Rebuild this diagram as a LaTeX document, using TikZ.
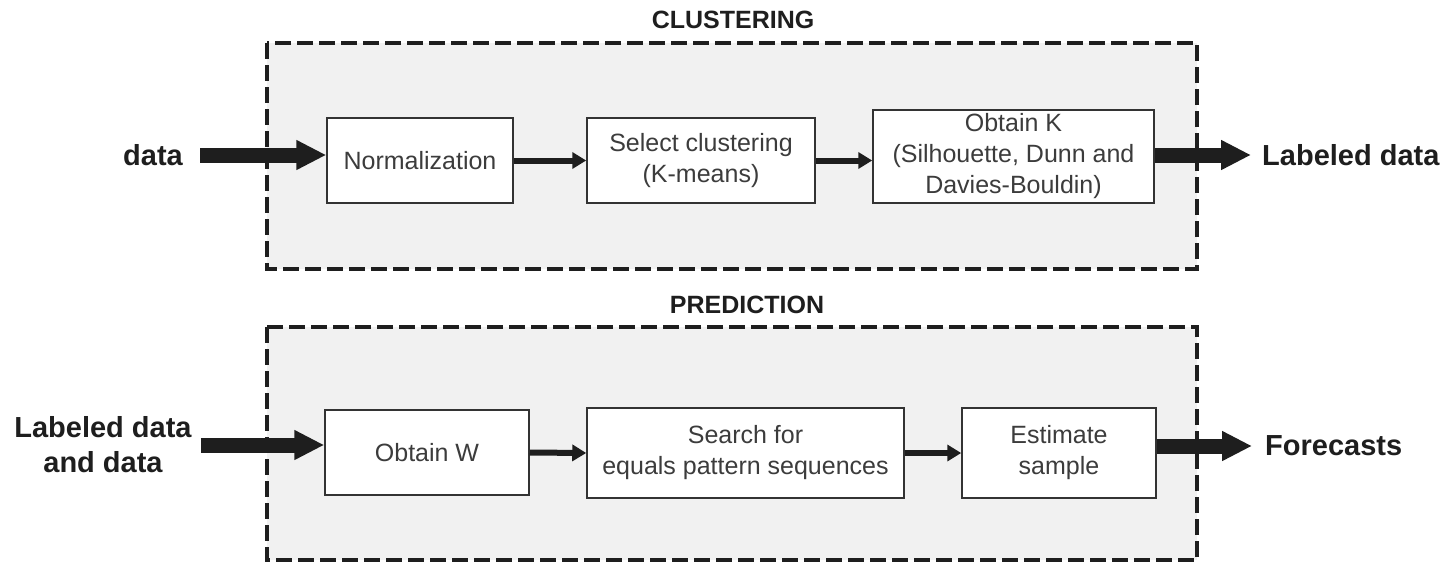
\documentclass[tikz,border=0pt]{standalone}
\usepackage{fontspec}
\setmainfont{Liberation Sans}
\usetikzlibrary{arrows.meta}
\definecolor{panelfill}{HTML}{F1F1F1}
\definecolor{boxtext}{HTML}{3C3C3C}
\definecolor{ink}{HTML}{1E1E1E}
\begin{document}
\begin{tikzpicture}[x=1pt,y=-1pt,
  panelborder/.style={draw=ink, line width=4pt, dash pattern=on 16pt off 6pt},
  stepbox/.style={draw=black!80, line width=1.5pt, fill=white, text=boxtext, align=center,
    font=\fontsize{25}{31}\selectfont, inner sep=0pt, anchor=center},
  title/.style={font=\bfseries\fontsize{25}{30}\selectfont, text=ink, inner sep=0pt},
  extlabel/.style={font=\bfseries\fontsize{29}{35}\selectfont, text=ink, align=center, inner sep=0pt},
  bigarrow/.style={draw=ink, line width=15pt, -{Triangle[length=30pt,width=28pt]}},
  smallarrow/.style={draw=ink, line width=6pt, -{Triangle[length=14pt,width=16pt]}},
]
\useasboundingbox (0,0) rectangle (1443,563);

% panel backgrounds
\fill[panelfill] (267,43) rectangle (1197,269);
\fill[panelfill] (267,327) rectangle (1197,560);

% titles
\node[title] (t1) at (733,20) {CLUSTERING};
\node[title] (t2) at (747,305) {PREDICTION};

% clustering row
\node[stepbox, minimum width=186pt, minimum height=85pt] (norm) at (420,160.5) {Normalization};
\node[stepbox, minimum width=228pt, minimum height=85pt] (sel) at (701,160.5) {Select clustering\\(K-means)};
\node[stepbox, minimum width=281pt, minimum height=93pt] (obtK) at (1013.5,156.5) {Obtain K\\(Silhouette, Dunn and\\Davies-Bouldin)};

\node[extlabel, anchor=east] (din) at (183,155) {data};
\node[extlabel, anchor=west] (lab) at (1262,155) {Labeled data};

\draw[bigarrow] ([xshift=17pt]din.east) -- (norm.west |- din.east);
\draw[smallarrow] (norm.east) -- (sel.west);
\draw[smallarrow] (sel.east) -- (sel.east -| obtK.west);
\draw[bigarrow] (obtK.east |- lab.west) -- ([xshift=-11pt]lab.west);

% prediction row
\node[stepbox, minimum width=204pt, minimum height=85pt] (obtW) at (427,452.5) {Obtain W};
\node[stepbox, minimum width=317pt, minimum height=90pt] (search) at (745.5,453) {Search for\\equals pattern sequences};
\node[stepbox, minimum width=194pt, minimum height=90pt] (est) at (1059,453) {Estimate\\sample};

\node[extlabel] (ld) at (103,445) {Labeled data\\and data};
\node[extlabel, anchor=west] (fc) at (1265,446) {Forecasts};

\draw[bigarrow] ([xshift=9pt]ld.east) -- (obtW.west |- ld.east);
\draw[smallarrow] (obtW.east) -- (search.west);
\draw[smallarrow] (search.east) -- (est.west);
\draw[bigarrow] (est.east |- fc.west) -- ([xshift=-13pt]fc.west);

% panel borders on top
\draw[panelborder] (267,43) rectangle (1197,269);
\draw[panelborder] (267,327) rectangle (1197,560);
\end{tikzpicture}
\end{document}
